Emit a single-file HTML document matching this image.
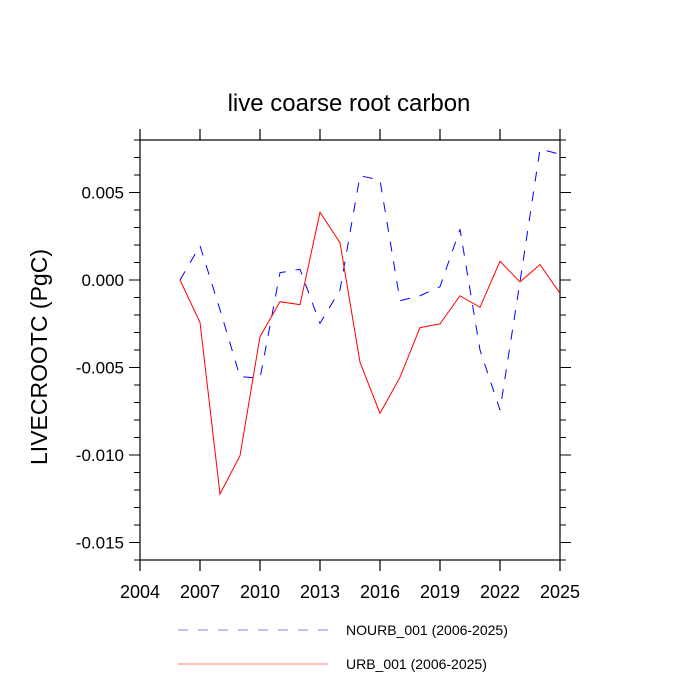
<!DOCTYPE html>
<html><head><meta charset="utf-8">
<style>
html,body{margin:0;padding:0;background:#fff;}
svg{display:block;font-family:"Liberation Sans",sans-serif;}
</style></head>
<body>
<svg id="chart" width="700" height="700" xmlns="http://www.w3.org/2000/svg">
<rect width="700" height="700" fill="#fff"/>
<text x="349" y="111" font-size="24" text-anchor="middle">live coarse root carbon</text>
<text transform="translate(47,357) rotate(-90)" font-size="23" text-anchor="middle">LIVECROOTC  (PgC)</text>
<g id="axes"></g>
<g id="series"></g>
<g>
<line x1="178" y1="630" x2="328" y2="630" stroke="#8080ff" stroke-width="1" stroke-dasharray="10,10"/>
<text x="346" y="635" font-size="14">NOURB_001 (2006-2025)</text>
<line x1="178" y1="664" x2="328" y2="664" stroke="#ff8080" stroke-width="1"/>
<text x="346" y="669" font-size="14">URB_001 (2006-2025)</text>
</g>
</svg>
<script>
const years = [2006,2007,2008,2009,2010,2011,2012,2013,2014,2015,2016,2017,2018,2019,2020,2021,2022,2023,2024,2025];
const nourb = [0,0.00196,-0.0017,-0.00552,-0.00562,0.00042,0.00061,-0.00248,-0.00057,0.00596,0.00571,-0.00118,-0.0009,-0.00038,0.0029,-0.004,-0.00743,-0.0001,0.00749,0.00718];
const urb = [0,-0.00242,-0.01223,-0.01004,-0.00324,-0.00124,-0.00141,0.00387,0.00213,-0.0047,-0.00762,-0.00556,-0.00272,-0.00251,-0.0009,-0.00156,0.00107,-0.00011,0.00088,-0.00076];
const xTicks = [2004,2007,2010,2013,2016,2019,2022,2025];
const yTicks = [0.005,0,-0.005,-0.01,-0.015];
const yTickLabels = ["0.005","0.000","-0.005","-0.010","-0.015"];

const L=140,R=560,T=140,B=560,xmin=2004,xmax=2025,ymin=-0.016,ymax=0.008;
const X=v=>L+(v-xmin)/(xmax-xmin)*(R-L);
const Y=v=>T+(ymax-v)/(ymax-ymin)*(B-T);
const NS="http://www.w3.org/2000/svg";
const axes=document.getElementById('axes');
function mk(tag,attrs,parent){const e=document.createElementNS(NS,tag);for(const k in attrs)e.setAttribute(k,attrs[k]);parent.appendChild(e);return e;}
const frame=mk('rect',{x:L,y:T,width:R-L,height:B-T,fill:'none',stroke:'#000','stroke-width':1.2},axes);


xTicks.forEach(t=>{
  const x=X(t);
  mk('line',{x1:x,y1:B,x2:x,y2:B+11,stroke:'#000','stroke-width':1.2},axes);
  mk('line',{x1:x,y1:T,x2:x,y2:T-11,stroke:'#000','stroke-width':1.2},axes);
  const tx=mk('text',{x:x,y:B+38,'font-size':18,'text-anchor':'middle'},axes);
  tx.textContent=t;
  
  
});
for(let i=-16;i<=8;i++){
  const v=i/1000, y=Y(v), major=(i%5===0);
  const len=major?11:6;
  mk('line',{x1:L,y1:y,x2:L-len,y2:y,stroke:'#000','stroke-width':1},axes);
  mk('line',{x1:R,y1:y,x2:R+len,y2:y,stroke:'#000','stroke-width':1},axes);
}
yTicks.forEach((t,i)=>{
  const tx=mk('text',{x:L-16,y:Y(t)+6,'font-size':17,'text-anchor':'end'},axes);
  tx.textContent=yTickLabels[i];
  
  
});
const series=document.getElementById('series');
const p1=mk('polyline',{points:years.map((y,i)=>X(y)+','+Y(nourb[i])).join(' '),fill:'none',stroke:'#0000ff','stroke-width':1,'stroke-dasharray':'10,10'},series);


const p2=mk('polyline',{points:years.map((y,i)=>X(y)+','+Y(urb[i])).join(' '),fill:'none',stroke:'#ff0000','stroke-width':1},series);


</script>
</body></html>
